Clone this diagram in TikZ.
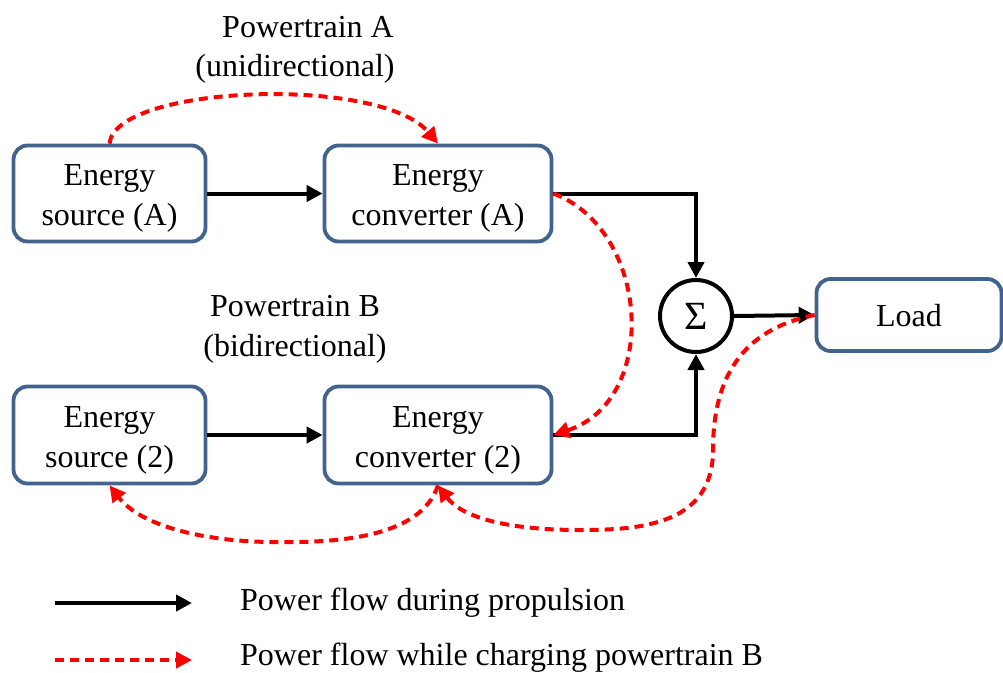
\documentclass[tikz,border=0pt]{standalone}
\usepackage{fontspec}
\setmainfont{Liberation Serif}
\usetikzlibrary{arrows.meta,calc}
\definecolor{boxblue}{RGB}{65,99,141}
\definecolor{flowred}{RGB}{255,0,0}
\tikzset{
  blk/.style={draw=boxblue, line width=3.8pt, rounded corners=14pt, inner sep=0pt},
  lbl/.style={font=\fontsize{32}{40}\selectfont, align=center, inner sep=0pt},
  prop/.style={draw=black, line width=4pt, -{Triangle[length=16pt,width=16pt]}},
  charge/.style={draw=flowred, line width=4pt, dash pattern=on 9pt off 6pt, -{Triangle[length=16pt,width=16pt,fill=flowred]}}
}
\begin{document}
\begin{tikzpicture}[x=1pt,y=-1pt]
\useasboundingbox (0,0) rectangle (1003,672);
\node[blk, minimum width=192pt, minimum height=96pt] (sA) at (109.5,193.5) {};
\node[blk, minimum width=227pt, minimum height=96pt] (cA) at (438,193.5) {};
\node[blk, minimum width=192pt, minimum height=97pt] (s2) at (109.5,435) {};
\node[blk, minimum width=227pt, minimum height=97pt] (c2) at (438,435) {};
\node[blk, minimum width=185pt, minimum height=72pt] (load) at (909,315) {};
\node[lbl] (sAt) at (109.5,198) {Energy\\source (A)};
\node[lbl] (cAt) at (438,198) {Energy\\converter (A)};
\node[lbl] (s2t) at (109.5,440) {Energy\\source (2)};
\node[lbl] (c2t) at (438,440) {Energy\\converter (2)};
\node[lbl] (loadt) at (909,316) {Load};
\node[draw=black, line width=4pt, circle, minimum size=72pt, inner sep=0pt, font=\fontsize{40}{40}\selectfont] (sum) at (696,316) {Σ};
\node[lbl] (ptA1) at (308,27) {Powertrain A};
\node[lbl] (ptA2) at (295,69) {(unidirectional)};
\node[lbl] (ptB) at (295,329) {Powertrain B\\(bidirectional)};

\draw[prop] (sA.east) -- (cA.west);
\draw[prop] (s2.east) -- (c2.west);
\draw[prop] (cA.east) -| (sum.north);
\draw[prop] (c2.east) -| (sum.south);
\draw[prop] (sum.east) -- (load.west);

\draw[charge] (sA.north) .. controls (115,85) and (380,75) .. (cA.north);
\draw[charge] (cA.east) .. controls (650,230) and (660,400) .. (c2.east);
\draw[charge] (load.west) .. controls (740,330) and (713,380) .. (713,450) .. controls (713,525) and (640,530) .. (580,530) .. controls (500,530) and (460,515) .. (c2.south);
\draw[charge] (c2.south) .. controls (420,540) and (330,543) .. (270,542) .. controls (200,541) and (140,525) .. (s2.south);

\coordinate (l1a) at (55,603);
\coordinate (l1b) at (192,603);
\coordinate (l2a) at (55,660);
\coordinate (l2b) at (192,660);
\draw[prop] (l1a) -- (l1b);
\draw[charge] (l2a) -- (l2b);
\node[lbl, anchor=west] (t1) at (240,603) {Power flow during propulsion};
\node[lbl, anchor=west] (t2) at (240,658) {Power flow while charging powertrain B};
\end{tikzpicture}
\end{document}
